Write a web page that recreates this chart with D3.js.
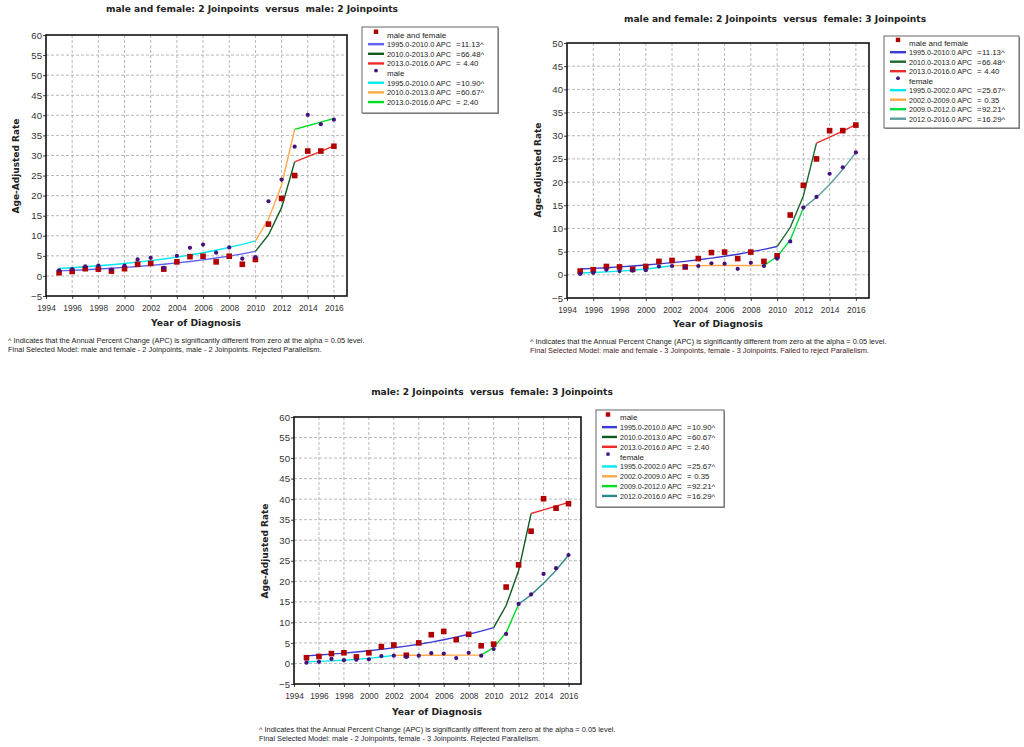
<!DOCTYPE html>
<html>
<head>
<meta charset="UTF-8">
<style>
  body { margin: 0; background: #fff; }
  svg { display: block; }
  text { font-family: "Liberation Sans", Arial, sans-serif; fill: #222; }
  .title, .axlab { font-family: "DejaVu Sans", Verdana, sans-serif; font-weight: bold; }
  .pre { white-space: pre; }
</style>
</head>
<body>
<svg></svg>
<script src="https://d3js.org/d3.v7.min.js"></script>
<script>

let width = 1024, height = 747;

// observed age-adjusted rates, 1995-2016
const years = [1995, 1996, 1997, 1998, 1999, 2000, 2001, 2002, 2003, 2004, 2005,
               2006, 2007, 2008, 2009, 2010, 2011, 2012, 2013, 2014, 2015, 2016];
const mfRate     = [0.8, 1.1, 1.8, 1.7, 1.2, 1.8, 2.9, 3.1, 1.7, 3.5, 4.8,
                    4.9, 3.5, 4.9, 2.9, 4.1, 12.9, 19.3, 25.0, 31.1, 31.1, 32.3];
const maleRate   = [1.4, 1.7, 2.4, 2.6, 1.6, 2.6, 4.1, 4.5, 2.0, 5.0, 7.0,
                    7.8, 5.8, 7.1, 4.3, 4.7, 18.6, 24.0, 32.2, 40.1, 37.8, 38.9];
const femaleRate = [0.2, 0.4, 1.1, 0.8, 0.9, 1.0, 1.8, 1.9, 1.6, 1.9, 2.5,
                    2.4, 1.3, 2.6, 1.9, 3.5, 7.2, 14.5, 16.8, 21.8, 23.2, 26.4];

// modelled (joinpoint) values
const mfFit     = [1.25, 1.39, 1.54, 1.72, 1.91, 2.12, 2.36, 2.62, 2.91, 3.24, 3.60,
                   4.00, 4.45, 4.94, 5.49, 6.10, 10.2, 17.0, 28.4, 29.7, 31.0, 32.4];
const maleFit   = [1.85, 2.05, 2.28, 2.52, 2.80, 3.10, 3.44, 3.82, 4.23, 4.69, 5.20,
                   5.77, 6.40, 7.10, 7.87, 8.73, 14.1, 22.6, 36.5, 37.4, 38.3, 39.2];
const femaleFit = [0.40, 0.50, 0.63, 0.79, 1.00, 1.25, 1.57, 1.98, 1.99, 1.99, 2.00,
                   2.01, 2.02, 2.02, 2.03, 3.90, 7.50, 14.4, 16.7, 19.5, 22.7, 26.4];

// joinpoint segments and APC values
const mfSegs     = [[1995, 2010], [2010, 2013], [2013, 2016]];
const maleSegs   = [[1995, 2010], [2010, 2013], [2013, 2016]];
const femaleSegs = [[1995, 2002], [2002, 2009], [2009, 2012], [2012, 2016]];
const mfApc      = ["11.13^", "66.48^", " 4.40"];
const maleApc    = ["10.90^", "60.67^", " 2.40"];
const femaleApc  = ["25.67^", " 0.35", "92.21^", "16.29^"];

const xTicks = [1994, 1996, 1998, 2000, 2002, 2004, 2006, 2008, 2010, 2012, 2014, 2016];
const yTicks60 = [-5, 0, 5, 10, 15, 20, 25, 30, 35, 40, 45, 50, 55, 60];
const yTicks50 = [-5, 0, 5, 10, 15, 20, 25, 30, 35, 40, 45, 50];

const note1 = "^ Indicates that the Annual Percent Change (APC) is significantly different from zero at the alpha = 0.05 level.";
const notes2 = [
  "Final Selected Model: male and female - 2 Joinpoints, male - 2 Joinpoints. Rejected Parallelism.",
  "Final Selected Model: male and female - 3 Joinpoints, female - 3 Joinpoints. Failed to reject Parallelism.",
  "Final Selected Model: male - 2 Joinpoints, female - 3 Joinpoints. Rejected Parallelism."
];

let svg = d3.select("svg")
    .attr("width", width)
    .attr("height", height);

let mfG = { name: "male and female", rate: mfRate, fit: mfFit, segs: mfSegs, apc: mfApc };
let maleG = { name: "male", rate: maleRate, fit: maleFit, segs: maleSegs, apc: maleApc };
let femaleG = { name: "female", rate: femaleRate, fit: femaleFit, segs: femaleSegs, apc: femaleApc };

let panels = [
  { title: "male and female: 2 Joinpoints  versus  male: 2 Joinpoints",
    a: mfG, b: maleG, aCol: ["#6060f4", "#0f5a1e", "#ee2a2a"], bCol: ["#00e8f0", "#ffa848", "#00dd22"],
    l: 46, r: 347, t: 35, bt: 296, yTicks: yTicks60, tx: 252, ty: 12,
    lg: { x: 362, y: 27, w: 136, h: 86, mx: 14, tx: 25, r0: 7.5, dy: 9.65, eq: 94 },
    yl: [19, 166], xl: [196, 326], fn: [8, 343], note: notes2[0], noteCol: "#222" },
  { title: "male and female: 2 Joinpoints  versus  female: 3 Joinpoints",
    a: mfG, b: femaleG, aCol: ["#3a3ad0", "#1a6a2a", "#ee2a2a"], bCol: ["#00e8f0", "#ffa848", "#00dd44", "#5a9ea0"],
    l: 567, r: 869, t: 43, bt: 298, yTicks: yTicks50, tx: 775, ty: 22,
    lg: { x: 884, y: 36, w: 135, h: 92, mx: 14, tx: 25, r0: 6.7, dy: 9.5, eq: 93 },
    yl: [541, 170], xl: [718, 327], fn: [530, 344], note: notes2[1], noteCol: "#4a1818" },
  { title: "male: 2 Joinpoints  versus  female: 3 Joinpoints",
    a: maleG, b: femaleG, aCol: ["#3a3ad8", "#0f5a1e", "#ee2a2a"], bCol: ["#00e8f0", "#ffa848", "#00dd22", "#2e8a8a"],
    l: 294, r: 581, t: 417, bt: 684, yTicks: yTicks60, tx: 492, ty: 395,
    lg: { x: 596, y: 410, w: 128, h: 97, mx: 12, tx: 24, r0: 7.3, dy: 9.83, eq: 91 },
    yl: [268, 551], xl: [437, 715], fn: [259, 732], note: notes2[2], noteCol: "#1a1a30" }
];

panels.forEach(p => {
  let g = svg.append("g");
  let x = d3.scaleLinear().domain([1994, 2017]).range([p.l, p.r]);
  let y = d3.scaleLinear().domain([-5, d3.max(p.yTicks)]).range([p.bt, p.t]);

  g.append("text").attr("class", "title")
    .attr("x", p.tx).attr("y", p.ty)
    .attr("text-anchor", "middle").attr("font-size", 9.1)
    .style("white-space", "pre")
    .text(p.title);

  // grid
  g.append("g").selectAll("line").data(xTicks.slice(1)).enter().append("line")
    .attr("x1", d => x(d)).attr("x2", d => x(d))
    .attr("y1", p.t).attr("y2", p.bt)
    .attr("stroke", "#b8b8b8").attr("stroke-dasharray", "3,2");
  g.append("g").selectAll("line").data(p.yTicks.slice(1, -1)).enter().append("line")
    .attr("x1", p.l).attr("x2", p.r)
    .attr("y1", d => y(d)).attr("y2", d => y(d))
    .attr("stroke", "#b8b8b8").attr("stroke-dasharray", "3,2");

  // axes
  let xa = g.append("g").attr("transform", "translate(0," + p.bt + ")")
    .call(d3.axisBottom(x).tickValues(xTicks).tickSize(3).tickPadding(6).tickFormat(d3.format("d")));
  let ya = g.append("g").attr("transform", "translate(" + p.l + ",0)")
    .call(d3.axisLeft(y).tickValues(p.yTicks).tickSize(3).tickPadding(1));
  [xa, ya].forEach(a => {
    a.select(".domain").remove();
    a.selectAll(".tick line").attr("stroke", "#444");
    a.selectAll(".tick text").style("fill", "#333").style("font-family", "'Liberation Sans', Arial, sans-serif");
  });
  xa.selectAll(".tick text").style("font-size", "8.4px");
  ya.selectAll(".tick text").style("font-size", "9.6px");

  g.append("rect")
    .attr("x", p.l).attr("y", p.t)
    .attr("width", p.r - p.l).attr("height", p.bt - p.t)
    .attr("fill", "none").attr("stroke", "#111").attr("stroke-width", 1.6);

  // fitted segments
  let line = d3.line().x(d => x(d[0])).y(d => y(d[1]));
  [[p.a, p.aCol], [p.b, p.bCol]].forEach(([grp, cols]) => {
    grp.segs.forEach((s, i) => {
      let pts = years.map((yr, k) => [yr, grp.fit[k]]).filter(d => d[0] >= s[0] && d[0] <= s[1]);
      g.append("path").datum(pts)
        .attr("d", line)
        .attr("fill", "none")
        .attr("stroke", cols[i])
        .attr("stroke-width", 1.4);
    });
  });

  // observed points
  let pa = years.map((yr, k) => [yr, p.a.rate[k]]);
  let pb = years.map((yr, k) => [yr, p.b.rate[k]]);
  g.append("g").selectAll("rect").data(pa).enter().append("rect")
    .attr("x", d => x(d[0]) - 2.8).attr("y", d => y(d[1]) - 2.8)
    .attr("width", 5.6).attr("height", 5.6)
    .attr("fill", "#b00000");
  g.append("g").selectAll("circle").data(pb).enter().append("circle")
    .attr("cx", d => x(d[0])).attr("cy", d => y(d[1]))
    .attr("r", 2.1)
    .attr("fill", "#43107e");

  // axis titles
  g.append("text").attr("class", "axlab")
    .attr("transform", "translate(" + p.yl[0] + "," + p.yl[1] + ") rotate(-90)")
    .attr("text-anchor", "middle").attr("font-size", 9)
    .text("Age-Adjusted Rate");
  g.append("text").attr("class", "axlab")
    .attr("x", p.xl[0]).attr("y", p.xl[1])
    .attr("text-anchor", "middle").attr("font-size", 9.2)
    .text("Year of Diagnosis");

  // legend
  let L = p.lg;
  let lg = g.append("g").attr("transform", "translate(" + L.x + "," + L.y + ")");
  lg.append("rect").attr("x", 1).attr("y", 1).attr("width", L.w).attr("height", L.h)
    .attr("fill", "#999");
  lg.append("rect").attr("width", L.w).attr("height", L.h)
    .attr("fill", "#fff").attr("stroke", "#555").attr("stroke-width", 0.9);

  let row = 0;
  [[p.a, p.aCol, "sq"], [p.b, p.bCol, "ci"]].forEach(([grp, cols, mk]) => {
    let cy = L.r0 + row * L.dy;
    if (mk == "sq") {
      lg.append("rect").attr("x", L.mx - 2.2).attr("y", cy - 5).attr("width", 4.4).attr("height", 4.4)
        .attr("fill", "#b00000");
    } else {
      lg.append("circle").attr("cx", L.mx).attr("cy", cy - 2.5).attr("r", 1.9).attr("fill", "#43107e");
    }
    lg.append("text").attr("x", L.tx).attr("y", cy + 3).attr("font-size", 8).text(grp.name);
    row++;
    grp.segs.forEach((s, i) => {
      let yy = L.r0 + row * L.dy;
      lg.append("line").attr("x1", 6).attr("x2", L.tx - 3)
        .attr("y1", yy).attr("y2", yy)
        .attr("stroke", cols[i]).attr("stroke-width", 2.4);
      lg.append("text").attr("x", L.tx).attr("y", yy + 3).attr("font-size", 7.8)
        .attr("textLength", L.eq - L.tx - 5).attr("lengthAdjust", "spacingAndGlyphs")
        .text(s[0].toFixed(1) + "-" + s[1].toFixed(1) + " APC");
      lg.append("text").attr("x", L.eq).attr("y", yy + 3).attr("font-size", 7.8).text("=");
      lg.append("text").attr("class", "pre").attr("x", L.eq + 5).attr("y", yy + 3).attr("font-size", 7.8)
        .text(grp.apc[i]);
      row++;
    });
  });

  // footnotes
  g.append("text").attr("x", p.fn[0]).attr("y", p.fn[1]).attr("font-size", 7.4).text(note1);
  g.append("text").attr("x", p.fn[0]).attr("y", p.fn[1] + 8.5).attr("font-size", 7.4)
    .style("fill", p.noteCol).text(p.note);
});

</script>
</body>
</html>
